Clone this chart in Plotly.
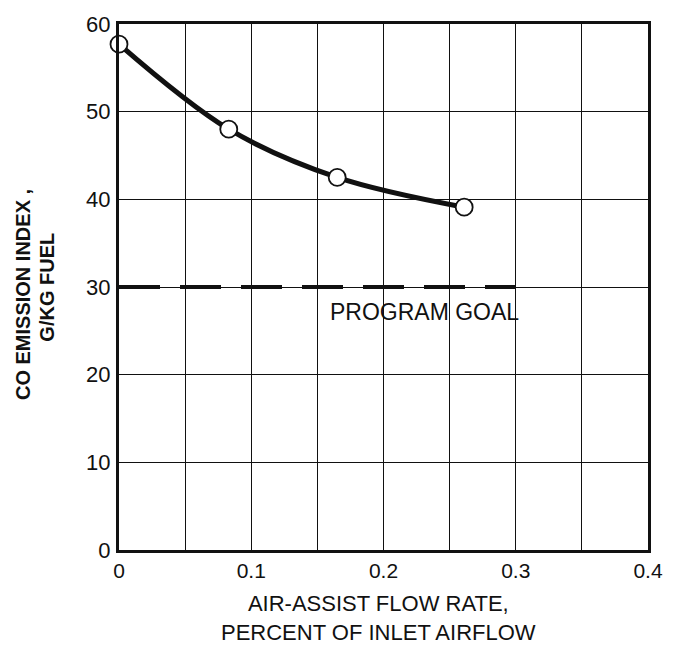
import plotly.graph_objects as go

# ---- data ----
flow_rate = [0.0, 0.083, 0.165, 0.261]          # percent of inlet airflow
co_index = [57.7, 48.0, 42.5, 39.1]              # g/kg fuel
goal_x = [0.0, 0.30]
goal_y = [30, 30]
goal_label = "PROGRAM GOAL"
goal_label_x = 0.231
goal_label_y = 27.2

x_tick_vals = [0, 0.05, 0.1, 0.15, 0.2, 0.25, 0.3, 0.35, 0.4]
x_tick_text = ["0", "", "0.1", "", "0.2", "", "0.3", "", "0.4"]
y_tick_vals = [0, 10, 20, 30, 40, 50, 60]
y_tick_text = ["0", "10", "20", "30", "40", "50", "60"]

x_title_lines = ["AIR-ASSIST FLOW RATE,", "PERCENT OF INLET AIRFLOW"]
y_title_lines = ["CO EMISSION INDEX ,", "G/KG FUEL"]

INK = "#111111"
FONT = "Liberation Sans, Arial, sans-serif"

W, H = 675, 645
L, R, T, B = 119, 15, 16, 95
PW, PH = W - L - R, H - T - B


def px_to_paper_x(px):
    return (px - L) / PW


def px_to_paper_y(py):
    return (H - B - py) / PH


fig = go.Figure()

fig.add_trace(go.Scatter(
    x=goal_x, y=goal_y, mode="lines",
    line=dict(color=INK, width=4, dash="41px,20px"),
    hoverinfo="skip", showlegend=False,
))

fig.add_trace(go.Scatter(
    x=flow_rate, y=co_index, mode="lines+markers",
    line=dict(color=INK, width=5, shape="spline", smoothing=1.0),
    marker=dict(size=17, color="white", line=dict(color=INK, width=1.8)),
    cliponaxis=False, showlegend=False,
))

fig.add_annotation(
    x=goal_label_x, y=goal_label_y, xref="x", yref="y",
    text=goal_label, showarrow=False,
    font=dict(family=FONT, size=23, color=INK),
    xanchor="center", yanchor="middle",
)

# x-axis title (two lines)
fig.add_annotation(
    x=px_to_paper_x(384), y=px_to_paper_y(619), xref="paper", yref="paper",
    text="<br>".join(x_title_lines), showarrow=False,
    xanchor="center", yanchor="middle", align="center",
    font=dict(family=FONT, size=22, color=INK),
)

# y-axis title (two rotated bold lines)
for line, px, py in zip(y_title_lines, [21, 45], [291, 283]):
    fig.add_annotation(
        x=px_to_paper_x(px), y=px_to_paper_y(py), xref="paper", yref="paper",
        text="<b>" + line + "</b>", showarrow=False, textangle=-90,
        xanchor="center", yanchor="middle",
        font=dict(family=FONT, size=20, color=INK),
    )

axis_common = dict(
    showgrid=True, gridcolor=INK, gridwidth=1.3,
    showline=True, linecolor=INK, linewidth=3, mirror=True,
    zeroline=False, ticks="",
)

fig.update_xaxes(
    range=[0, 0.4], tickmode="array", tickvals=x_tick_vals, ticktext=x_tick_text,
    ticklabelstandoff=0, tickfont=dict(family=FONT, size=21, color=INK),
    **axis_common,
)
fig.update_yaxes(
    range=[0, 60], tickmode="array", tickvals=y_tick_vals, ticktext=y_tick_text,
    ticklabelstandoff=1, tickfont=dict(family=FONT, size=22, color=INK),
    **axis_common,
)

fig.update_layout(
    width=W, height=H,
    margin=dict(l=L, r=R, t=T, b=B),
    paper_bgcolor="white", plot_bgcolor="white",
    font=dict(family=FONT, color=INK),
    showlegend=False,
)

fig.write_html("out.html")
